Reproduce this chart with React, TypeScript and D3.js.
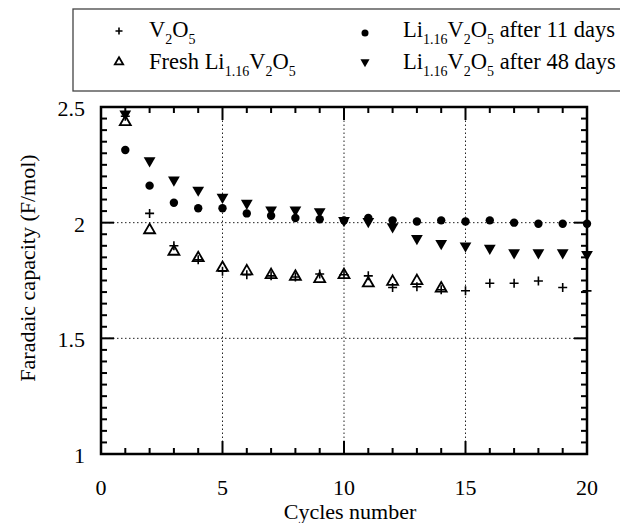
import React from "react";
import * as d3 from "d3";

const width = 620;
const height = 523;
const margin = { top: 107, right: 33, bottom: 69, left: 101 };

const cycles = d3.range(1, 21);
// V2O5 (plus)
const v2o5 = [2.46, 2.04, 1.9, 1.84, 1.79, 1.775, 1.77, 1.765, 1.778, 1.775, 1.77, 1.72, 1.723, 1.71, 1.706, 1.738, 1.738, 1.748, 1.72, 1.705];
// Fresh Li1.16V2O5 (open triangle), cycles 1-14
const fresh = [2.435, 1.968, 1.875, 1.847, 1.805, 1.79, 1.774, 1.767, 1.757, 1.774, 1.738, 1.745, 1.748, 1.716];
// after 11 days (filled circle)
const days11 = [2.314, 2.16, 2.086, 2.062, 2.062, 2.04, 2.03, 2.02, 2.015, 2.01, 2.02, 2.01, 2.005, 2.01, 2.005, 2.01, 2.0, 1.995, 1.995, 1.995];
// after 48 days (filled down triangle)
const days48 = [2.47, 2.268, 2.185, 2.141, 2.11, 2.084, 2.055, 2.055, 2.048, 2.01, 2.005, 1.983, 1.932, 1.91, 1.9, 1.89, 1.87, 1.87, 1.87, 1.863];

const xTicks = [0, 5, 10, 15, 20];
const yTicks = [1, 1.5, 2, 2.5];

const font = "'Liberation Serif', 'Times New Roman', serif";

const x = d3.scaleLinear().domain([0, 20]).range([margin.left, width - margin.right]);
const y = d3.scaleLinear().domain([1, 2.5]).range([height - margin.bottom, margin.top]);

const triUp = d3.symbol(d3.symbolTriangle, 52)();
const triUpSmall = d3.symbol(d3.symbolTriangle, 30)();
const triDown = d3.symbol(d3.symbolTriangle, 60)();
const triDownSmall = d3.symbol(d3.symbolTriangle, 36)();

const Plus = ({ cx, cy, s }: { cx: number; cy: number; s: number }) => (
  <path d={`M${cx - s},${cy}H${cx + s}M${cx},${cy - s}V${cy + s}`} stroke="#000" strokeWidth={1.6} />
);

const sub = 14;

const Formula = ({ pre, post }: { pre?: string; post?: string }) => (
  <>
    {pre}
    <tspan>Li</tspan>
    <tspan fontSize={sub} dy={7}>1.16</tspan>
    <tspan dy={-7}>V</tspan>
    <tspan fontSize={sub} dy={7}>2</tspan>
    <tspan dy={-7}>O</tspan>
    <tspan fontSize={sub} dy={7}>5</tspan>
    <tspan dy={-7}>{post}</tspan>
  </>
);

export default function App() {
  const [x0, x1] = x.range();
  const [y0, y1] = y.range();
  const xMinor = d3.range(1, 20);
  const yMinor = d3.range(1, 2.5001, 0.05).map(v => +v.toFixed(2));

  return (
    <svg width={width} height={height} style={{ position: "absolute", left: 0, top: 0, background: "#fff" }} fontFamily={font}>
      {/* legend */}
      <rect x={73} y={9} width={600} height={82} fill="none" stroke="#444" strokeWidth={1.3} />
      <Plus cx={119} cy={31} s={3.5} />
      <path d={triUpSmall} transform="translate(119,62)" fill="#fff" stroke="#000" strokeWidth={1.8} />
      <circle cx={365} cy={33} r={3.5} fill="#000" />
      <path d={triDownSmall} transform="translate(365,62) rotate(180)" fill="#000" />
      <text x={149} y={37} fontSize={22.5}>
        V<tspan fontSize={sub} dy={7}>2</tspan><tspan dy={-7}>O</tspan><tspan fontSize={sub} dy={7}>5</tspan>
      </text>
      <text x={149} y={69} fontSize={22.5}>
        <Formula pre="Fresh " />
      </text>
      <text x={403} y={37} fontSize={22.5}>
        <Formula post=" after 11 days" />
      </text>
      <text x={403} y={69} fontSize={22.5}>
        <Formula post=" after 48 days" />
      </text>

      {/* grid */}
      {[5, 10, 15].map(v => (
        <line key={"gx" + v} x1={x(v)} x2={x(v)} y1={y0} y2={y1} stroke="#222" strokeWidth={1} strokeDasharray="1.5,2.5" />
      ))}
      {[1.5, 2].map(v => (
        <line key={"gy" + v} x1={x0} x2={x1} y1={y(v)} y2={y(v)} stroke="#222" strokeWidth={1} strokeDasharray="1.5,2.5" />
      ))}

      {/* ticks */}
      {xMinor.map(v => {
        const len = v % 5 === 0 ? 13 : 6;
        return (
          <g key={"tx" + v} stroke="#000" strokeWidth={2}>
            <line x1={x(v)} x2={x(v)} y1={y0} y2={y0 - len} />
            <line x1={x(v)} x2={x(v)} y1={y1} y2={y1 + len} />
          </g>
        );
      })}
      {yMinor.map(v => {
        const len = Math.abs((v * 2) % 1) < 1e-6 ? 13 : 6;
        return (
          <g key={"ty" + v} stroke="#000" strokeWidth={2}>
            <line x1={x0} x2={x0 + len} y1={y(v)} y2={y(v)} />
            <line x1={x1} x2={x1 - len} y1={y(v)} y2={y(v)} />
          </g>
        );
      })}
      <rect x={x0} y={y1} width={x1 - x0} height={y0 - y1} fill="none" stroke="#000" strokeWidth={2.5} />

      {/* tick labels */}
      {xTicks.map(v => (
        <text key={"lx" + v} x={x(v)} y={495} fontSize={22} textAnchor="middle">{v}</text>
      ))}
      {yTicks.map(v => (
        <text key={"ly" + v} x={85} y={y(v) + 9} fontSize={22} textAnchor="end">{v}</text>
      ))}

      {/* axis titles */}
      <text x={350} y={519} fontSize={22} textAnchor="middle">Cycles number</text>
      <text transform="translate(35,268) rotate(-90)" fontSize={22} textAnchor="middle">Faradaic capacity (F/mol)</text>

      {/* data */}
      {days48.map((v, i) => (
        <path key={"d48" + i} d={triDown} transform={`translate(${x(cycles[i])},${y(v)}) rotate(180)`} fill="#000" />
      ))}
      {days11.map((v, i) => (
        <circle key={"d11" + i} cx={x(cycles[i])} cy={y(v)} r={4.2} fill="#000" />
      ))}
      {fresh.map((v, i) => (
        <path key={"fr" + i} d={triUp} transform={`translate(${x(cycles[i])},${y(v)})`} fill="#fff" stroke="#000" strokeWidth={1.8} />
      ))}
      {v2o5.map((v, i) => (
        <Plus key={"v" + i} cx={x(cycles[i])} cy={y(v)} s={4.5} />
      ))}
    </svg>
  );
}
